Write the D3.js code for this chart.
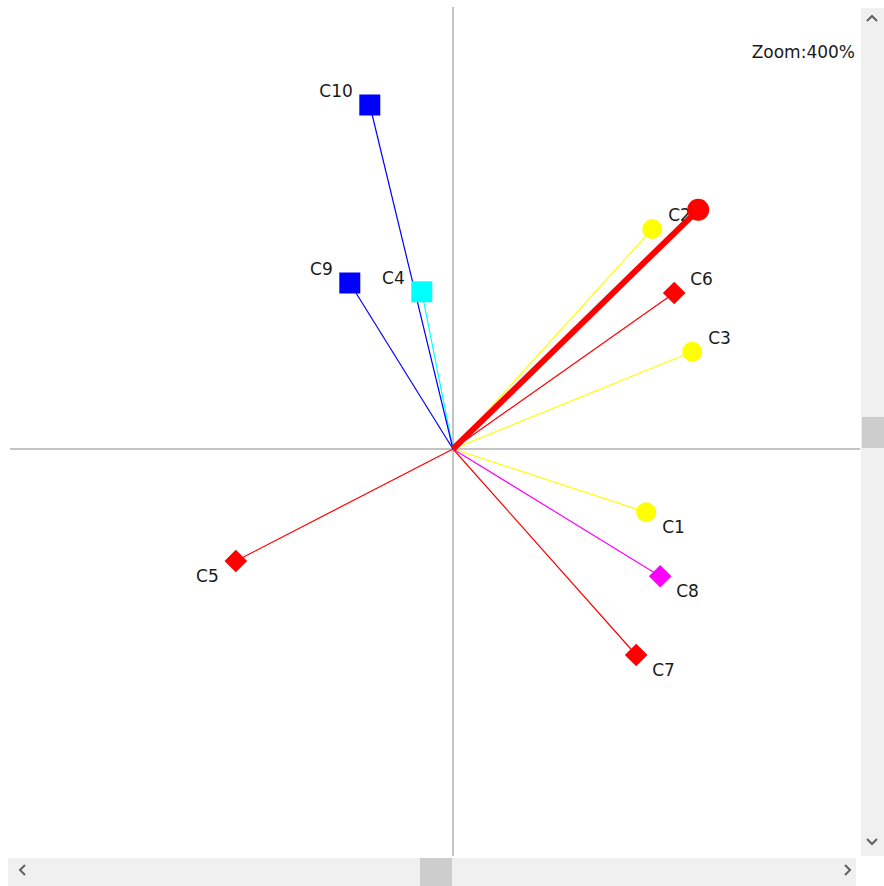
<!DOCTYPE html>
<html><head><meta charset="utf-8">
<script src="https://cdn.jsdelivr.net/npm/d3@7"></script>
<style>
html,body{margin:0;padding:0;background:#fff;overflow:hidden}
svg{display:block}
text{font-family:Tahoma,"DejaVu Sans","Liberation Sans",sans-serif;font-size:17px;fill:#1a1a1a}
</style></head>
<body>
<svg id="chart" width="884" height="886"></svg>
<script>
// ---- data ----
const names   = ["C1","C2","C3","C4","C5","C6","C7","C8","C9","C10"];
const xValues = [0.483, 0.498, 0.598, -0.078, -0.543, 0.553, 0.458, 0.518, -0.258, -0.208];
const yValues = [-0.158, 0.550, 0.243, 0.393, -0.280, 0.390, -0.515, -0.318, 0.415, 0.860];
const colors  = ["#ffff00","#ffff00","#ffff00","#00ffff","#ff0000","#ff0000","#ff0000","#ff00ff","#0000ff","#0000ff"];
const shapes  = ["circle","circle","circle","square","diamond","diamond","diamond","diamond","square","square"];
const meanVector = [0.613, 0.598];
const zoomLabel = "Zoom:400%";

const svg = d3.select("#chart");

const x = d3.scaleLinear().domain([-1.1075, 1.0175]).range([10, 860]);
const y = d3.scaleLinear().domain([-1.0175, 1.1025]).range([856, 8]);

const X0 = x(0), Y0 = y(0);

// axes (cross through origin)
svg.append("line").attr("x1", x(0)).attr("x2", x(0)).attr("y1", 7).attr("y2", 856)
  .attr("stroke", "#c4c4c4").attr("stroke-width", 2);
svg.append("line").attr("x1", 10).attr("x2", 860).attr("y1", y(0)).attr("y2", y(0))
  .attr("stroke", "#c4c4c4").attr("stroke-width", 2);

const data = names.map((n, i) => ({name: n, x: xValues[i], y: yValues[i], color: colors[i], shape: shapes[i]}));

// vectors
svg.append("g").selectAll("line").data(data).join("line")
  .attr("x1", X0).attr("y1", Y0)
  .attr("x2", d => x(d.x)).attr("y2", d => y(d.y))
  .attr("stroke", d => d.color).attr("stroke-width", 1.2);

// markers
const symCircle = d3.symbol().type(d3.symbolCircle).size(Math.PI * 10 * 10);
const symSquare = d3.symbol().type(d3.symbolSquare).size(21 * 21);
const symDiamond = d3.symbol().type(d3.symbolSquare).size(16 * 16);
const g = svg.append("g");
data.forEach(d => {
  const px = x(d.x), py = y(d.y);
  let p;
  if (d.shape === "circle") p = g.append("path").attr("d", symCircle()).attr("transform", `translate(${px},${py})`);
  else if (d.shape === "square") p = g.append("path").attr("d", symSquare()).attr("transform", `translate(${px},${py})`);
  else p = g.append("path").attr("d", symDiamond()).attr("transform", `translate(${px},${py}) rotate(45)`);
  p.attr("fill", d.color);
});

// labels
svg.append("g").selectAll("text").data(data).join("text")
  .attr("x", d => x(d.x) + (d.x > 0 ? 16 : -17))
  .attr("y", d => y(d.y) + (d.y > 0 ? -14 : 15))
  .attr("text-anchor", d => d.x > 0 ? "start" : "end")
  .attr("dominant-baseline", "central")
  .text(d => d.name);

// thick red mean vector
svg.append("line").attr("x1", X0).attr("y1", Y0)
  .attr("x2", x(meanVector[0])).attr("y2", y(meanVector[1]))
  .attr("stroke", "#ff0000").attr("stroke-width", 6);
svg.append("path").attr("d", d3.symbol().type(d3.symbolCircle).size(Math.PI * 11 * 11)())
  .attr("transform", `translate(${x(meanVector[0])},${y(meanVector[1])})`).attr("fill", "#ff0000");

// zoom label
svg.append("text").attr("x", 855).attr("y", 52).attr("text-anchor", "end")
  .attr("dominant-baseline", "central").text(zoomLabel);

// scrollbars
const sb = svg.append("g");
sb.append("rect").attr("x", 861).attr("y", 8).attr("width", 23).attr("height", 848).attr("fill", "#f0f0f0");
sb.append("rect").attr("x", 862).attr("y", 417).attr("width", 22).attr("height", 31).attr("fill", "#cdcdcd");
sb.append("rect").attr("x", 8).attr("y", 858).attr("width", 848).attr("height", 28).attr("fill", "#f0f0f0");
sb.append("rect").attr("x", 420).attr("y", 858).attr("width", 32).attr("height", 28).attr("fill", "#cdcdcd");
const chev = (pts) => sb.append("polyline").attr("points", pts).attr("fill", "none")
  .attr("stroke", "#606060").attr("stroke-width", 2);
chev("867,21 872,16 877,21");
chev("867,839 872,844 877,839");
chev("25,865 20,870 25,875");
chev("845,865 850,870 845,875");
</script>
</body></html>
